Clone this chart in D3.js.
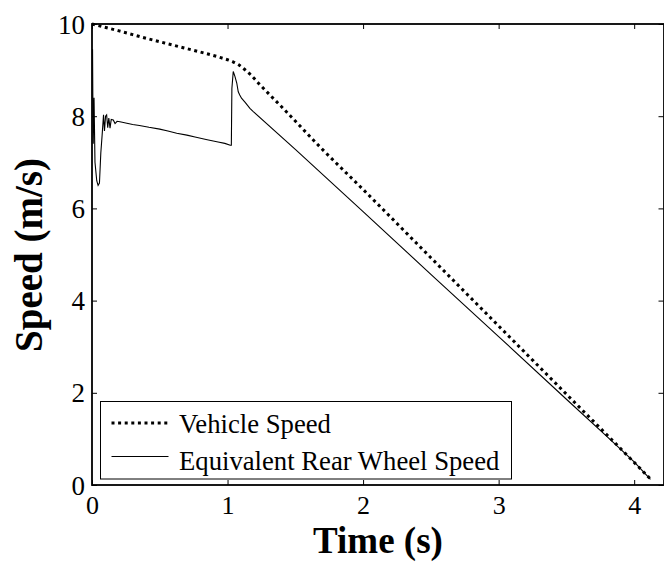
<!DOCTYPE html>
<html><head><meta charset="utf-8">
<script src="https://cdn.jsdelivr.net/npm/d3@7/dist/d3.min.js"></script>
<style>
html,body{margin:0;padding:0;background:#fff;}
svg{display:block;font-family:"Liberation Serif","Times New Roman",serif;}
</style></head>
<body><svg id="chart" width="664" height="562"></svg>
<script>
// ---- data ----
const xLimits = [0, 4.22];
const yLimits = [0, 10];
const xTicks = [0, 1, 2, 3, 4];
const yTicks = [0, 2, 4, 6, 8, 10];

const vehicleTime  = [0, 0.2, 0.4, 0.6, 0.8, 0.95, 1.04, 1.08, 1.12, 1.17, 1.24, 1.41, 1.68, 2.0, 2.5, 3.0, 3.5, 4.0, 4.13];
const vehicleSpeed = [10.0, 9.85, 9.69, 9.54, 9.39, 9.27, 9.18, 9.12, 9.03, 8.90, 8.68, 8.17, 7.34, 6.41, 4.93, 3.45, 1.97, 0.49, 0.10];

const wheelTime  = [0.004, 0.006, 0.009, 0.015, 0.022, 0.035, 0.045, 0.055, 0.065, 0.075, 0.085, 0.092, 0.1, 0.108, 0.116, 0.124, 0.133, 0.142, 0.157, 0.17, 0.185, 0.206,
                    0.3, 0.35, 0.42, 0.5, 0.56, 0.625, 0.7, 0.76, 0.85, 0.93, 0.98, 1.02, 1.028, 1.032, 1.042, 1.055, 1.068, 1.079, 1.09, 1.103, 1.13, 1.165, 1.19,
                    1.5, 2.0, 2.5, 3.0, 3.5, 3.8, 4.0, 4.12];
const wheelSpeed = [9.45, 8.5, 7.4, 8.4, 7.0, 6.6, 6.5, 6.55, 7.2, 7.6, 8.03, 7.68, 8.0, 8.03, 7.75, 7.96, 7.74, 7.93, 7.92, 7.84, 7.89, 7.88,
                    7.82, 7.80, 7.76, 7.72, 7.68, 7.63, 7.59, 7.55, 7.49, 7.44, 7.41, 7.37, 7.37, 8.6, 8.97, 8.86, 8.72, 8.53, 8.46, 8.39, 8.30, 8.17, 8.10,
                    7.28, 5.93, 4.57, 3.22, 1.86, 1.05, 0.50, 0.12];

const legendLabels = ["Vehicle Speed", "Equivalent Rear Wheel Speed"];
const xTitle = "Time (s)";
const yTitle = "Speed (m/s)";

// ---- layout ----
const pL = 92, pR = 664, pT = 24, pB = 485;
const svg = d3.select("#chart");
const x = d3.scaleLinear().domain(xLimits).range([pL, pR]);
const y = d3.scaleLinear().domain(yLimits).range([pB, pT]);

// axes (ticks inward on all sides)
const gx = svg.append("g").attr("transform", `translate(0,${pB})`)
  .call(d3.axisBottom(x).tickValues(xTicks).tickSize(-5).tickFormat(d3.format("d")));
gx.selectAll("text").attr("y", 11).attr("dy", "0.71em").style("font-size", "26px")
  .style("font-family", "Liberation Serif").attr("fill", "#000");

const gy = svg.append("g").attr("transform", `translate(${pL},0)`)
  .call(d3.axisLeft(y).tickValues(yTicks).tickSize(-5).tickFormat(d3.format("d")));
gy.selectAll("text").attr("x", -7).attr("dy", "0.34em").style("font-size", "27px")
  .style("font-family", "Liberation Serif").attr("fill", "#000");

const gt = svg.append("g").attr("transform", `translate(0,${pT})`)
  .call(d3.axisTop(x).tickValues(xTicks).tickSize(-5).tickFormat(""));
const gr = svg.append("g").attr("transform", `translate(${pR - 0.5},0)`)
  .call(d3.axisRight(y).tickValues(yTicks).tickSize(-5).tickFormat(""));

[gx, gy, gt, gr].forEach(g => {
  g.select(".domain").remove();
  g.selectAll(".tick line").attr("stroke", "#000").attr("stroke-width", 1);
});

// data lines
const line = d3.line().x(d => x(d[0])).y(d => y(d[1]));
const wheelData = wheelTime.map((t, i) => [t, wheelSpeed[i]]);
const vehData = vehicleTime.map((t, i) => [t, vehicleSpeed[i]]);

svg.append("path").datum(wheelData).attr("d", line)
  .attr("fill", "none").attr("stroke", "#000").attr("stroke-width", 1.1);
svg.append("path").datum(vehData).attr("d", d3.line().x(d => x(d[0])).y(d => y(d[1])).curve(d3.curveMonotoneX))
  .attr("fill", "none").attr("stroke", "#000").attr("stroke-width", 3).attr("stroke-dasharray", "3,3.6");

// box
svg.append("rect").attr("x", pL).attr("y", pT).attr("width", pR - pL).attr("height", pB - pT)
  .attr("fill", "none").attr("stroke", "#000").attr("stroke-width", 1.8);

// legend
const lg = svg.append("g");
lg.append("rect").attr("x", 100.5).attr("y", 401.5).attr("width", 411).attr("height", 77.5)
  .attr("fill", "#fff").attr("stroke", "#000").attr("stroke-width", 1);
lg.append("line").attr("x1", 111.5).attr("x2", 168.5).attr("y1", 423).attr("y2", 423)
  .attr("stroke", "#000").attr("stroke-width", 3).attr("stroke-dasharray", "3,3.6");
lg.append("line").attr("x1", 111.5).attr("x2", 168.5).attr("y1", 456.5).attr("y2", 456.5)
  .attr("stroke", "#000").attr("stroke-width", 1);
lg.append("text").attr("x", 179).attr("y", 433).style("font-size", "26.7px").text(legendLabels[0]);
lg.append("text").attr("x", 179).attr("y", 470).style("font-size", "26.7px").text(legendLabels[1]);

// titles
svg.append("text").attr("x", 378).attr("y", 553).attr("text-anchor", "middle")
  .style("font-size", "37px").style("font-weight", "bold").text(xTitle);
svg.append("text").attr("transform", "translate(42,255) rotate(-90)").attr("text-anchor", "middle")
  .style("font-size", "39px").style("font-weight", "bold").text(yTitle);
</script></body></html>
